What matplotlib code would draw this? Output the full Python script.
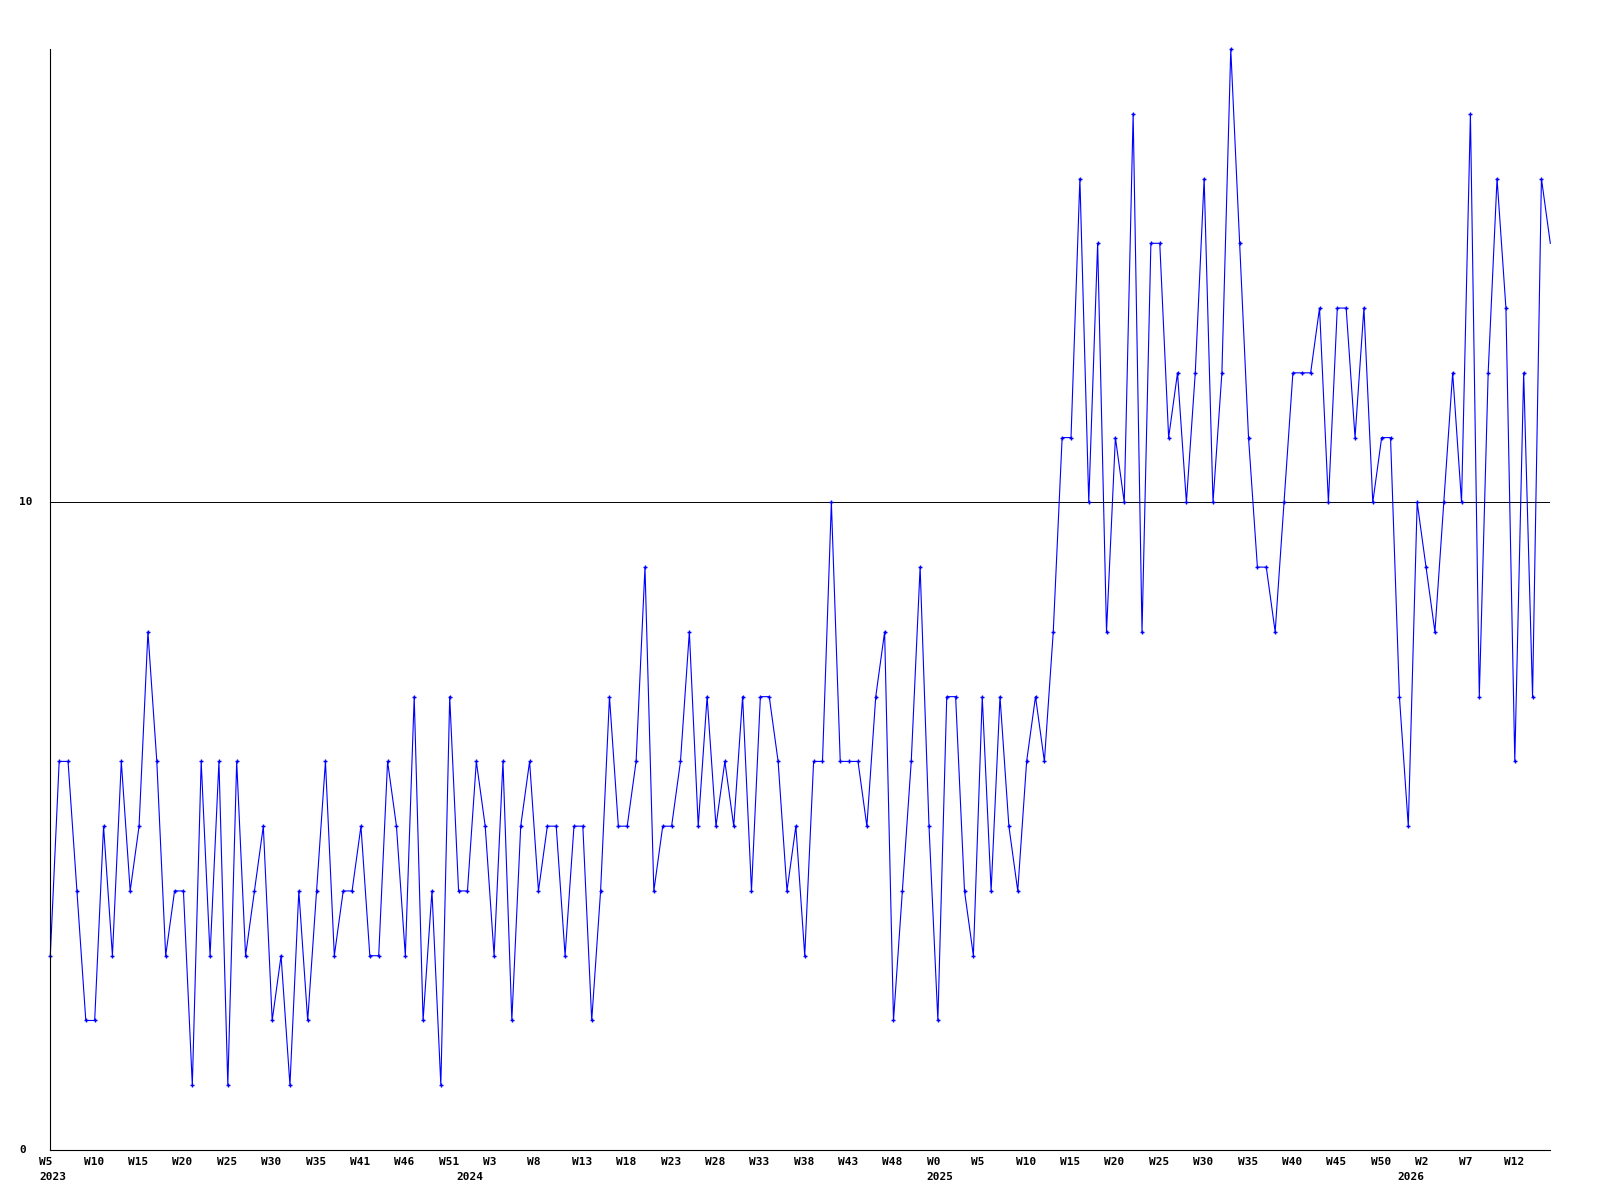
from matplotlib import pyplot as plt
from matplotlib.transforms import ScaledTranslation
import numpy as np

# weekly counts, one value per point, read left to right
counts = [3, 6, 6, 4, 2, 2, 5, 3, 6, 4, 5, 8, 6, 3, 4, 4, 1, 6,
          3, 6, 1, 6, 3, 4, 5, 2, 3, 1, 4, 2, 4, 6, 3, 4, 4, 5, 3, 3, 6,
          5, 3, 7, 2, 4, 1, 7, 4, 4, 6, 5, 3, 6, 2, 5, 6, 4, 5, 5, 3, 5,
          5, 2, 4, 7, 5, 5, 6, 9, 4, 5, 5, 6, 8, 5, 7, 5, 6, 5, 7, 4, 7, 7,
          6, 4, 5, 3, 6, 6, 10, 6, 6, 6, 5, 7, 8, 2, 4, 6, 9, 5, 2, 7, 7,
          4, 3, 7, 4, 7, 5, 4, 6, 7, 6, 8, 11, 11, 15, 10, 14, 8, 11, 10, 16, 8, 14,
          14, 11, 12, 10, 12, 15, 10, 12, 17, 14, 11, 9, 9, 8, 10, 12, 12, 12, 13, 10, 13,
          13, 11, 13, 10, 11, 11, 7, 5, 10, 9, 8, 10, 12, 10, 16, 7, 12, 15, 13, 6, 12,
          7, 15, 14]

week_labels = ['W5', 'W10', 'W15', 'W20', 'W25', 'W30', 'W35', 'W41', 'W46', 'W51',
               'W3', 'W8', 'W13', 'W18', 'W23', 'W28', 'W33', 'W38', 'W43', 'W48',
               'W0', 'W5', 'W10', 'W15', 'W20', 'W25', 'W30', 'W35', 'W40', 'W45',
               'W50', 'W2', 'W7', 'W12']
week_pos = list(range(0, 170, 5))

years = ['2023', '2024', '2025', '2026']
year_pos = [0, 47, 100, 153]

y_labels = ['0', '10']
y_pos = [0, 10]

font = dict(family='DejaVu Sans Mono', weight='bold', size=8)

fig = plt.figure(figsize=(16, 12), dpi=100)
ax = fig.add_axes([50.3 / 1600, 1 - 1150 / 1200, 1500 / 1600, 1101 / 1200])

x = np.arange(len(counts))
# last marker sits on the plot edge and is cut off in the original
ax.plot(x, counts, color='#0000ff', lw=0.8, marker='+', ms=3.5, mew=1.0,
        markevery=list(range(len(counts) - 1)), clip_on=False)
ax.axhline(10, color='black', lw=0.7, zorder=0)

ax.set_xlim(0, len(counts) - 1)
ax.set_ylim(0, max(counts))

for s in ['top', 'right']:
    ax.spines[s].set_visible(False)
for s in ['left', 'bottom']:
    ax.spines[s].set_linewidth(0.8)
    ax.spines[s].set_color('black')

# x labels: left aligned a little before each point
ax.set_xticks(week_pos)
ax.set_xticklabels(week_labels, **font)
ax.tick_params(axis='x', length=0, pad=5)
shift = ScaledTranslation(-11 / 100, 0, fig.dpi_scale_trans)
for lbl in ax.get_xticklabels():
    lbl.set_ha('left')
    lbl.set_transform(lbl.get_transform() + shift)

year_shift = ScaledTranslation(-11 / 100, -22 / 100, fig.dpi_scale_trans)
for p, yr in zip(year_pos, years):
    ax.text(p, 0, yr, transform=ax.get_xaxis_transform() + year_shift,
            ha='left', va='top', **font)

ax.set_yticks([])
for p, lab in zip(y_pos, y_labels):
    ax.text(-31 / 1500, p, lab, transform=ax.get_yaxis_transform(),
            ha='left', va='center', **font)

fig.savefig('out.png', dpi=100, facecolor='white')
